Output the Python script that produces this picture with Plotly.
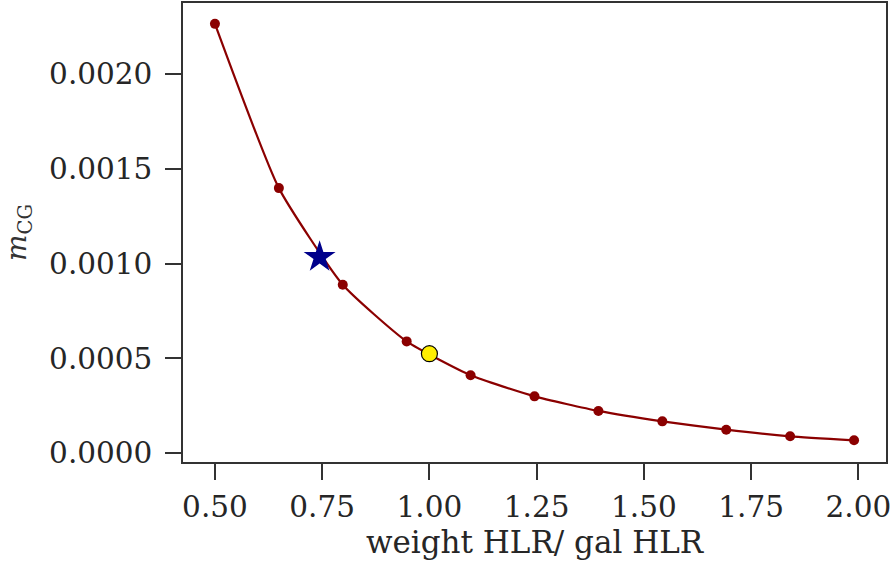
import plotly.graph_objects as go

# data
ratio = [0.5, 0.649, 0.798, 0.947, 1.096, 1.245, 1.394, 1.543, 1.692, 1.841, 1.99]
m_cg = [0.002265, 0.001398, 0.000888, 0.000589, 0.000410, 0.000299,
        0.000222, 0.000167, 0.000123, 0.000088, 0.000067]
star_x = [0.744]
star_y = [0.001034]
ref_x = [1.0]
ref_y = [0.000524]

x_ticks = [0.5, 0.75, 1.0, 1.25, 1.5, 1.75, 2.0]
x_ticklabels = ["0.50", "0.75", "1.00", "1.25", "1.50", "1.75", "2.00"]
y_ticks = [0.0, 0.0005, 0.0010, 0.0015, 0.0020]
y_ticklabels = ["0.0000", "0.0005", "0.0010", "0.0015", "0.0020"]

font = "DejaVu Serif"
axcol = "#333333"
txtcol = "#262626"
fs = 29.5

fig = go.Figure()
fig.add_trace(go.Scatter(
    x=ratio, y=m_cg, mode="lines+markers",
    line=dict(color="#8b0000", width=2.2, shape="spline", smoothing=0.5),
    marker=dict(color="#8b0000", size=10),
    showlegend=False,
))
fig.add_trace(go.Scatter(
    x=star_x, y=star_y, mode="markers",
    marker=dict(symbol="star", color="#00008b", size=24, line=dict(width=0)),
    showlegend=False,
))
fig.add_trace(go.Scatter(
    x=ref_x, y=ref_y, mode="markers",
    marker=dict(symbol="circle", color="#ffee00", size=16,
                line=dict(color="#000000", width=1.2)),
    showlegend=False,
))

fig.update_layout(
    width=893, height=566,
    margin=dict(l=183, r=7, t=3, b=104),
    paper_bgcolor="white", plot_bgcolor="white",
    font=dict(family=font, size=fs, color=txtcol),
)
fig.update_xaxes(
    range=[0.4255, 2.0645], automargin=False,
    tickvals=x_ticks, ticktext=x_ticklabels,
    showgrid=False, zeroline=False,
    showline=True, mirror=True, linecolor=axcol, linewidth=1.5,
    ticks="outside", ticklen=16, tickwidth=1.5, tickcolor=axcol,
    ticklabelstandoff=2,
    tickfont=dict(family=font, size=fs, color=txtcol),
    title=dict(text="weight HLR/ gal HLR", standoff=6,
               font=dict(family=font, size=31, color=txtcol)),
)
fig.update_yaxes(
    range=[-0.0000475, 0.002375], automargin=False,
    tickvals=y_ticks, ticktext=y_ticklabels,
    showgrid=False, zeroline=False,
    showline=True, mirror=True, linecolor=axcol, linewidth=1.5,
    ticks="outside", ticklen=16, tickwidth=1.5, tickcolor=axcol,
    ticklabelstandoff=7,
    tickfont=dict(family=font, size=fs, color=txtcol),
    title=dict(text="<i>m</i><sub>CG</sub>",
               standoff=14,
               font=dict(family=font, size=28, color="#333333")),
)

fig.write_html("out.html", post_script="document.body.style.margin='0px';",
               config={"displayModeBar": False})
